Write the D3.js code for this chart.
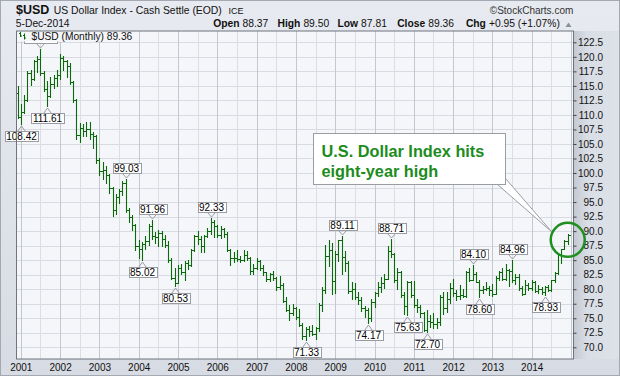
<!DOCTYPE html>
<html><head><meta charset="utf-8">
<script src="https://cdn.jsdelivr.net/npm/d3@7/dist/d3.min.js"></script>
<style>
html,body{margin:0;padding:0;background:#e0e3e9;}
svg{display:block;font-family:"Liberation Sans",Arial,sans-serif;}
</style></head><body>
<svg id="chart" width="620" height="376"></svg>
<script>
// ---------------- DATA ----------------
const firstMonth = "2000-12";   // first bar (month of first OHLC entry)
const opens = [113.8,
 109.6,110.5,112.6,117.2,116.2,119.2,119.6,117.3,114.4,113.2,115.4,116.4,
 116.9,119.8,119.2,118.4,115.6,112.6,106.6,107.8,107.2,107.6,106.8,106.3,
 102.2,100.3,100.5,99.6,97.4,93.7,95.8,96.9,98.3,93.6,92.4,91.0,
 87.4,87.0,87.8,88.3,90.8,89.2,88.9,89.6,88.7,87.6,85.0,82.0,
 81.1,83.7,82.9,84.5,84.2,86.7,89.1,88.6,87.4,89.2,90.1,91.6,
 90.9,89.3,90.4,89.5,86.7,85.3,85.3,85.2,85.0,85.9,85.3,83.1,
 83.7,84.9,83.7,82.9,81.8,82.6,81.9,80.3,80.8,78.0,76.5,75.9,
 76.7,75.3,73.8,71.9,73.2,72.8,72.3,73.3,77.3,79.9,85.8,86.7,
 81.4,86.1,88.4,85.6,84.5,79.7,80.0,78.7,78.2,76.7,76.4,75.0,
 77.8,79.4,80.3,81.1,81.8,86.6,86.1,81.6,83.0,79.0,77.1,81.2,
 79.0,77.3,76.9,75.9,73.0,74.6,74.3,74.0,74.3,78.6,76.8,78.3,
 80.2,79.3,78.8,79.0,78.8,82.9,81.6,82.6,81.3,79.9,80.0,80.2,
 79.8,79.2,82.0,82.9,81.8,83.3,83.2,81.5,82.1,80.2,79.2,80.7,
 80.2,81.3,79.7,80.1,79.5,80.4,79.8,81.5,82.8,86.0,86.9,88.37];
const highs = [114.9,
 111.9,113.4,117.5,117.8,119.5,120.2,121.29,117.6,115.8,116.6,116.8,117.8,
 120.4,120.1,119.4,118.9,115.8,112.8,108.6,108.4,108.7,108.7,107.0,106.6,
 102.6,101.9,101.2,99.9,97.6,96.4,97.3,98.6,99.03,94.0,92.8,91.2,
 88.4,88.2,89.1,91.2,91.96,89.9,90.2,90.1,89.4,88.3,85.4,83.6,
 84.1,84.4,84.8,85.0,86.9,89.3,90.1,89.1,89.4,90.5,92.33,91.9,
 91.0,90.9,90.6,89.8,86.9,86.4,86.7,85.7,86.7,86.6,85.5,84.3,
 85.4,85.1,84.1,83.0,82.8,83.1,82.1,82.3,81.1,78.6,77.2,77.4,
 76.9,76.6,74.2,73.5,73.6,73.9,73.5,77.6,80.4,87.6,88.4,87.9,
 86.6,88.5,89.11,86.6,84.8,81.2,81.0,79.6,78.6,77.1,76.8,78.3,
 79.6,81.3,82.1,82.6,87.4,88.71,86.2,83.6,83.2,79.5,81.4,81.4,
 81.4,78.3,77.3,76.1,76.4,75.6,75.9,75.0,79.0,79.5,79.5,81.1,
 81.8,79.9,80.7,80.0,83.1,83.6,84.10,83.0,81.6,80.6,81.3,80.5,
 80.9,82.3,83.2,83.6,84.4,83.5,84.96,82.6,82.6,80.6,81.5,81.0,
 81.5,81.4,80.8,80.4,80.6,80.8,81.6,82.9,86.2,86.9,88.4,89.50];
const lows = [109.4,
 108.42,110.4,112.4,115.2,116.0,117.4,116.8,114.2,111.61,113.0,114.6,114.9,
 116.1,117.7,116.6,115.3,112.3,105.8,105.4,106.4,106.3,105.9,104.3,101.8,
 99.6,99.0,98.2,96.6,92.6,92.9,94.8,96.2,93.3,91.5,90.2,86.8,
 85.4,85.02,86.9,87.6,88.6,88.0,87.4,87.5,87.3,84.7,81.8,80.53,
 81.0,82.6,81.6,83.4,84.0,86.6,87.7,86.4,86.4,88.9,89.5,89.0,
 88.9,88.8,88.9,86.5,84.1,84.6,84.8,84.6,84.9,85.0,82.6,82.6,
 83.4,83.3,82.5,81.4,81.4,81.6,79.9,80.1,77.8,76.2,74.7,75.5,
 74.9,73.6,71.4,71.33,72.0,72.1,71.4,72.8,76.2,79.3,84.0,79.2,
 79.4,84.9,82.6,83.2,79.3,78.4,78.4,77.5,76.2,75.3,74.17,74.5,
 76.9,78.9,79.5,80.2,81.7,85.5,81.3,80.1,78.7,75.8,75.63,78.6,
 76.9,76.0,75.2,72.85,72.70,73.5,73.4,73.4,73.9,75.7,76.1,77.7,
 78.9,78.1,78.4,78.6,78.6,81.4,81.6,81.2,78.60,79.3,79.8,79.0,
 78.9,79.1,81.6,81.5,81.6,80.5,81.3,80.9,79.9,79.0,79.1,79.8,
 79.9,79.6,79.3,79.2,78.93,79.7,79.7,81.2,82.6,84.5,86.9,87.81];
const closes = [109.6,
 110.5,112.6,117.2,116.2,119.2,119.6,117.3,114.4,113.2,115.4,116.4,116.9,
 119.8,119.2,118.4,115.6,112.6,106.6,107.8,107.2,107.6,106.8,106.3,102.2,
 100.3,100.5,99.6,97.4,93.7,95.8,96.9,98.3,93.6,92.4,91.0,87.4,
 87.0,87.8,88.3,90.8,89.2,88.9,89.6,88.7,87.6,85.0,82.0,81.1,
 83.7,82.9,84.5,84.2,86.7,89.1,88.6,87.4,89.2,90.1,91.6,90.9,
 89.3,90.4,89.5,86.7,85.3,85.3,85.2,85.0,85.9,85.3,83.1,83.7,
 84.9,83.7,82.9,81.8,82.6,81.9,80.3,80.8,78.0,76.5,75.9,76.7,
 75.3,73.8,71.9,73.2,72.8,72.3,73.3,77.3,79.9,85.8,86.7,81.4,
 86.1,88.4,85.6,84.5,79.7,80.0,78.7,78.2,76.7,76.4,75.0,77.8,
 79.4,80.3,81.1,81.8,86.6,86.1,81.6,83.0,79.0,77.1,81.2,79.0,
 77.3,76.9,75.9,73.0,74.6,74.3,74.0,74.3,78.6,76.8,78.3,80.2,
 79.3,78.8,79.0,78.8,82.9,81.6,82.6,81.3,79.9,80.0,80.2,79.8,
 79.2,82.0,82.9,81.8,83.3,83.2,81.5,82.1,80.2,79.2,80.7,80.2,
 81.3,79.7,80.1,79.5,80.4,79.8,81.5,82.8,86.0,86.9,88.3,89.36];

const yearLabels = ["2001","2002","2003","2004","2005","2006","2007","2008","2009","2010","2011","2012","2013","2014"];
const yTicks = [70.0,72.5,75.0,77.5,80.0,82.5,85.0,87.5,90.0,92.5,95.0,97.5,100.0,102.5,105.0,107.5,110.0,112.5,115.0,117.5,120.0,122.5];
const highCallouts = ["2001-07","2003-09","2004-05","2005-11","2009-03","2010-06","2012-07","2013-07"];
const lowCallouts  = ["2001-01","2001-09","2004-02","2004-12","2008-04","2009-11","2010-11","2011-05","2012-09","2014-05"];
const symbol = "$USD";
const title = "US Dollar Index - Cash Settle (EOD)";
const exchange = "ICE";
const credit = "\u00A9StockCharts.com";
const dateText = "5-Dec-2014";
const statLabels = ["Open","High","Low","Close","Chg"];
const statValues = ["88.37","89.50","87.81","89.36","+0.95 (+1.07%)"];
const legendText = "$USD (Monthly) ";
const noteLines = ["U.S. Dollar Index hits","eight-year high"];
const noteLevel = 88.5;

// ---------------- LAYOUT ----------------
const W = 620, H = 376;
const P = {left:16.5, right:573.5, top:31, bottom:359};
const GREEN = "#0a6a0a";
const svg = d3.select("#chart");
const defs = svg.append("defs");

const bgGrad = defs.append("linearGradient").attr("id","bg").attr("x1",0).attr("y1",0).attr("x2",0).attr("y2",1);
bgGrad.append("stop").attr("offset",0).attr("stop-color","#e7eaf0");
bgGrad.append("stop").attr("offset",1).attr("stop-color","#d7dbe3");
const axGrad = defs.append("linearGradient").attr("id","axg").attr("x1",0).attr("y1",0).attr("x2",1).attr("y2",0);
axGrad.append("stop").attr("offset",0).attr("stop-color","#c3c8d2");
axGrad.append("stop").attr("offset",0.3).attr("stop-color","#d9dde5");
axGrad.append("stop").attr("offset",1).attr("stop-color","#dde1e8");
defs.append("clipPath").attr("id","clip").append("rect")
  .attr("x",P.left).attr("y",P.top).attr("width",P.right-P.left).attr("height",P.bottom-P.top);

svg.append("rect").attr("width",W).attr("height",H).attr("fill","url(#bg)");
svg.append("rect").attr("x",P.right).attr("y",P.top).attr("width",W-P.right-1).attr("height",P.bottom-P.top).attr("fill","url(#axg)");
svg.append("rect").attr("x",0.5).attr("y",0.5).attr("width",W-1).attr("height",H-1)
  .attr("fill","none").attr("stroke","#a3a8b1");
svg.append("rect").attr("x",P.left).attr("y",P.top).attr("width",P.right-P.left).attr("height",P.bottom-P.top)
  .attr("fill","#f5f6fa");

// scales: month index 0 = Jan 2001
const [fy, fm] = firstMonth.split("-").map(Number);
const firstIdx = (fy-2001)*12 + (fm-1);
const monthIdx = s => { const [yy,mm] = s.split("-").map(Number); return (yy-2001)*12 + (mm-1); };
const x = d3.scaleLinear().domain([0, 168]).range([20.8, 571]);
const y = d3.scaleLinear().domain([70, 122.5]).range([347.3, 42.3]);
const px = v => Math.round(v) + 0.5;

// grid
const grid = svg.append("g").attr("clip-path","url(#clip)");
grid.selectAll("line.h").data(yTicks).join("line")
  .attr("x1",P.left).attr("x2",P.right).attr("y1",d=>px(y(d))).attr("y2",d=>px(y(d)))
  .attr("stroke","#d9dbe2").attr("stroke-width",1);
grid.selectAll("line.v").data(d3.range(0,169,6)).join("line")
  .attr("x1",d=>px(x(d))).attr("x2",d=>px(x(d))).attr("y1",P.top).attr("y2",P.bottom)
  .attr("stroke",d=> d%12===0 ? "#c4c7cf" : "#dcdee4").attr("stroke-width",1);

// bars
const bars = d3.range(closes.length).map(k => ({i: firstIdx + k, o: opens[k], h: highs[k], l: lows[k], c: closes[k]}));
const barG = svg.append("g").attr("clip-path","url(#clip)");
barG.selectAll("path").data(bars).join("path")
  .attr("d", d => {
    const cx = px(x(d.i));
    const yo = px(y(d.o)), yc = px(y(d.c));
    return `M${cx},${Math.round(y(d.h))}V${Math.round(y(d.l))+1}` +
           `M${cx-2.5},${yo}H${cx}M${cx},${yc}H${cx+2.5}`;
  })
  .attr("fill","none").attr("stroke",GREEN).attr("stroke-width",1.1);

// value callouts
const legendBox = {x:17, y:31.5, w:114, h:10};
const calloutG = svg.append("g");
function callout(m, isHigh) {
  const k = monthIdx(m) - firstIdx;
  const v = isHigh ? highs[k] : lows[k];
  const cx = px(x(monthIdx(m)));
  const apex = isHigh ? Math.round(y(v)) - 1 : Math.round(y(v)) + 2;
  const g = calloutG.append("g");
  const label = v.toFixed(2);
  const bw = Math.round(label.length * 5.0 + 3), bh = 10;
  const by = isHigh ? apex - 5 - bh : apex + 5;
  const bx = Math.round(cx - bw/2) + 0.5;
  g.append("rect").attr("x",bx).attr("y",by+0.5).attr("width",bw).attr("height",bh)
    .attr("fill","#fff").attr("stroke","#9a9ca3");
  g.append("path").attr("d", isHigh
      ? `M${cx-4},${by+bh+0.5}L${cx},${apex}L${cx+4},${by+bh+0.5}`
      : `M${cx-4},${by+0.5}L${cx},${apex}L${cx+4},${by+0.5}`)
    .attr("fill","none").attr("stroke","#9a9ca3");
  // a label tucked under the legend is hidden in the original, so only its frame shows
  const hidden = by < legendBox.y + legendBox.h && bx < legendBox.x + legendBox.w;
  if (!hidden) {
    g.append("text").text(label).attr("font-size","10px").attr("text-anchor","middle").attr("fill","#000")
      .attr("x",cx).attr("y",by+bh-1);
  }
}
highCallouts.forEach(m => callout(m, true));
lowCallouts.forEach(m => callout(m, false));

// legend
const lg = svg.append("g");
lg.append("rect").attr("x",legendBox.x).attr("y",legendBox.y).attr("width",legendBox.w).attr("height",legendBox.h).attr("fill","#f5f6fa");
lg.append("path").attr("d","M20.5,32V37M19,33.5H20.5M20.5,36H22M24.5,33.5V39.5M23,35.5H24.5M24.5,38H26")
  .attr("stroke",GREEN).attr("fill","none");
lg.append("text").attr("x",31.5).attr("y",39.5).attr("font-size","10.2px").attr("fill","#111")
  .text(legendText + closes[closes.length-1].toFixed(2));

// plot frame
svg.append("rect").attr("x",P.left).attr("y",P.top).attr("width",P.right-P.left).attr("height",P.bottom-P.top)
  .attr("fill","none").attr("stroke","#6f747d").attr("stroke-width",1);

// axes
const yAxis = svg.append("g").attr("transform",`translate(${P.right},0)`)
  .call(d3.axisRight(y).tickValues(yTicks).tickSize(3).tickFormat(d3.format(".1f")));
yAxis.select(".domain").remove();
yAxis.selectAll(".tick line").attr("stroke","#444");
yAxis.selectAll(".tick text").attr("text-anchor","end").attr("x",29.5)
  .attr("font-family","Liberation Sans, Arial, sans-serif").attr("font-size","10px").attr("fill","#111");

const xAxis = svg.append("g").attr("transform",`translate(0,${P.bottom})`)
  .call(d3.axisBottom(x).tickValues(d3.range(0,157,12)).tickSize(0).tickPadding(4.5)
    .tickFormat((d,i)=>yearLabels[i]));
xAxis.select(".domain").remove();
xAxis.selectAll(".tick text").attr("font-family","Liberation Sans, Arial, sans-serif")
  .attr("font-size","10px").attr("fill","#111");

// annotation
const last = firstIdx + closes.length - 1;
const ccx = x(last), ccy = y(noteLevel), cr = 17;
const ann = svg.append("g");
const box = {x:313.5, y:133.5, w:192, h:51};
ann.append("path")
  .attr("d",`M${box.x+box.w-8},${box.y+box.h}L${ccx-16},${ccy-8}L${box.x+box.w},${box.y+box.h-6}Z`)
  .attr("fill","#fff").attr("stroke","#9a9ca3");
ann.append("rect").attr("x",box.x).attr("y",box.y).attr("width",box.w).attr("height",box.h)
  .attr("fill","#fff").attr("stroke","#9a9ca3");
ann.selectAll("text").data(noteLines).join("text")
  .attr("x",box.x+8).attr("y",(d,i)=>156.5+i*20.7)
  .attr("font-size","16.3px").attr("font-weight","bold").attr("fill","#1c8c1c").text(d=>d);
ann.append("circle").attr("cx",ccx).attr("cy",ccy).attr("r",cr)
  .attr("fill","none").attr("stroke","#1f8f1f").attr("stroke-width",2.5);

// header
const hd = svg.append("g").attr("fill","#111");
hd.append("text").attr("x",16).attr("y",14).attr("font-size","12.5px").attr("font-weight","bold").text(symbol);
hd.append("text").attr("x",53.8).attr("y",14).attr("font-size","10.4px").text(title);
hd.append("text").attr("x",228.5).attr("y",14).attr("font-size","9px").text(exchange);
hd.append("text").attr("x",573.3).attr("y",14).attr("font-size","10px").attr("text-anchor","end").attr("fill","#333").text(credit);
hd.append("text").attr("x",15.8).attr("y",27).attr("font-size","10.3px").text(dateText);
const statX = [213.2, 277.5, 337.5, 397.2, 465.9];
statLabels.forEach((lab, i) => {
  const t = hd.append("text").attr("x",statX[i]).attr("y",27).attr("font-size","10.3px");
  t.append("tspan").attr("font-weight","bold").text(lab);
  t.append("tspan").attr("dx",3).text(statValues[i]);
});
hd.append("path").attr("d","M565.5,27L568.5,22.5L571.5,27Z").attr("fill","#8a8f98");
</script>
</body></html>
